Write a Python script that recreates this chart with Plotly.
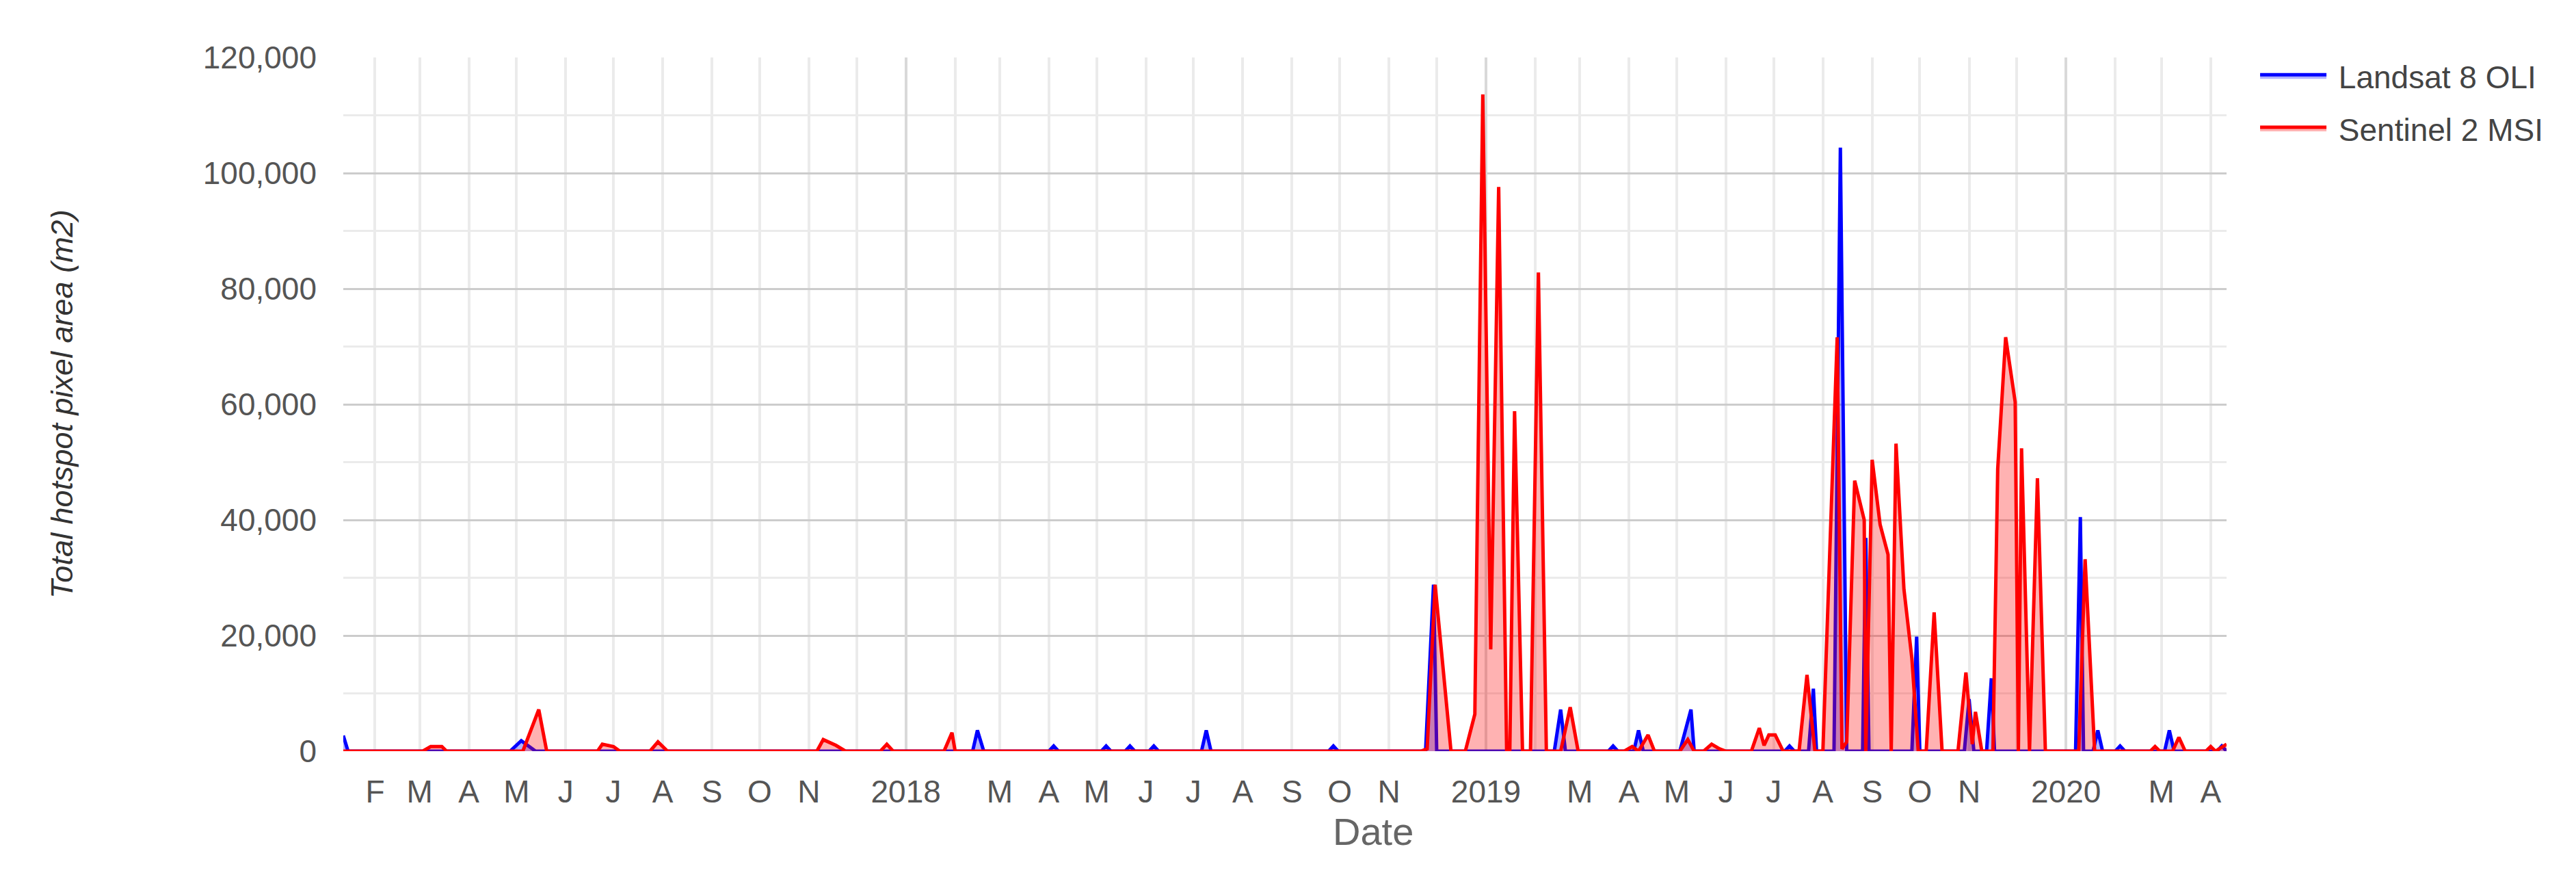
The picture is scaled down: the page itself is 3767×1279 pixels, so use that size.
import plotly.graph_objects as go

# ---------------- data ----------------
landsat_dates = [
    "2017-01-12", "2017-01-15", "2017-04-27", "2017-05-04", "2017-05-13",
    "2018-02-12", "2018-02-15", "2018-02-19", "2018-04-01", "2018-04-04", "2018-04-07",
    "2018-05-04", "2018-05-07", "2018-05-10", "2018-05-19", "2018-05-22", "2018-05-25",
    "2018-06-03", "2018-06-06", "2018-06-09", "2018-07-06", "2018-07-09", "2018-07-12",
    "2018-09-24", "2018-09-27", "2018-09-30", "2018-11-24", "2018-11-29", "2018-12-01",
    "2019-02-13", "2019-02-17", "2019-02-20", "2019-03-19", "2019-03-22", "2019-03-25",
    "2019-04-04", "2019-04-07", "2019-04-10", "2019-05-03", "2019-05-10", "2019-05-12",
    "2019-07-08", "2019-07-11", "2019-07-14", "2019-07-23", "2019-07-26", "2019-07-28",
    "2019-08-08", "2019-08-12", "2019-08-16", "2019-08-26", "2019-08-28", "2019-08-30",
    "2019-09-26", "2019-09-29", "2019-10-01", "2019-10-29", "2019-11-01", "2019-11-04",
    "2019-11-12", "2019-11-15", "2019-11-17", "2020-01-07", "2020-01-10", "2020-01-12",
    "2020-01-18", "2020-01-21", "2020-01-24", "2020-02-01", "2020-02-04", "2020-02-07",
    "2020-03-03", "2020-03-06", "2020-03-09", "2020-04-05", "2020-04-08", "2020-04-11",
]
landsat_area = [
    2700, 0, 0, 1800, 0,
    0, 3600, 0, 0, 900, 0,
    0, 900, 0, 0, 900, 0,
    0, 900, 0, 0, 3600, 0,
    0, 900, 0, 0, 28800, 0,
    0, 7200, 0, 0, 900, 0,
    0, 3600, 0, 0, 7200, 0,
    0, 900, 0, 0, 10800, 0,
    0, 104400, 0, 0, 36900, 0,
    0, 19800, 0, 0, 9000, 0,
    0, 12600, 0, 0, 40500, 0,
    0, 3600, 0, 0, 900, 0,
    0, 3600, 0, 0, 900, 0,
]

sentinel_dates = [
    "2017-01-12", "2017-03-03", "2017-03-08", "2017-03-15", "2017-03-18",
    "2017-05-05", "2017-05-15", "2017-05-20", "2017-06-21", "2017-06-24", "2017-07-01", "2017-07-05",
    "2017-07-24", "2017-07-29", "2017-08-04", "2017-11-06", "2017-11-10", "2017-11-18", "2017-11-24",
    "2017-12-16", "2017-12-20", "2017-12-24", "2018-01-25", "2018-01-30", "2018-02-01",
    "2018-11-21", "2018-11-25", "2018-11-30", "2018-12-10", "2018-12-19", "2018-12-25",
    "2018-12-30", "2019-01-04", "2019-01-09", "2019-01-14", "2019-01-16", "2019-01-19",
    "2019-01-24", "2019-01-29", "2019-02-03", "2019-02-08", "2019-02-17", "2019-02-23", "2019-02-28",
    "2019-03-29", "2019-04-03", "2019-04-07", "2019-04-13", "2019-04-17",
    "2019-05-03", "2019-05-08", "2019-05-12", "2019-05-18", "2019-05-23", "2019-05-28", "2019-06-01",
    "2019-06-17", "2019-06-22", "2019-06-25", "2019-06-28", "2019-07-02", "2019-07-07",
    "2019-07-17", "2019-07-22", "2019-07-27", "2019-08-01", "2019-08-10", "2019-08-13", "2019-08-16",
    "2019-08-21", "2019-08-27", "2019-08-28", "2019-09-01", "2019-09-06", "2019-09-11", "2019-09-13",
    "2019-09-16", "2019-09-21", "2019-09-26", "2019-09-30", "2019-10-05", "2019-10-10", "2019-10-15",
    "2019-10-25", "2019-10-30", "2019-11-03", "2019-11-05", "2019-11-09", "2019-11-16", "2019-11-19",
    "2019-11-24", "2019-11-30", "2019-12-02", "2019-12-04", "2019-12-09", "2019-12-14", "2019-12-19",
    "2020-01-09", "2020-01-13", "2020-01-19", "2020-02-23", "2020-02-26", "2020-02-29",
    "2020-03-08", "2020-03-12", "2020-03-16", "2020-03-29", "2020-04-01", "2020-04-04", "2020-04-11",
]
sentinel_area = [
    0, 0, 800, 800, 0,
    0, 7200, 0, 0, 1200, 800, 0,
    0, 1600, 0, 0, 2000, 1000, 0,
    0, 1200, 0, 0, 3200, 0,
    0, 400, 28800, 0, 0, 6400,
    113600, 17600, 97600, 0, 0, 58800,
    0, 0, 82800, 0, 0, 7600, 0,
    0, 800, 0, 2800, 0,
    0, 2000, 0, 0, 1200, 400, 0,
    0, 4000, 1000, 2800, 2800, 0,
    0, 13200, 0, 0, 71600, 400, 1600,
    46800, 40000, 0, 50400, 39200, 34000, 0,
    53200, 28000, 16000, 0, 0, 24000, 0,
    0, 13600, 1200, 6800, 0, 0, 48800,
    71600, 60400, 0, 52400, 0, 47200, 0,
    0, 33200, 0, 0, 800, 0,
    0, 2400, 0, 0, 800, 0, 1200,
]

month_ticks = [
    "2017-02-01", "2017-03-01", "2017-04-01", "2017-05-01", "2017-06-01", "2017-07-01",
    "2017-08-01", "2017-09-01", "2017-10-01", "2017-11-01", "2017-12-01",
    "2018-01-01", "2018-02-01", "2018-03-01", "2018-04-01", "2018-05-01", "2018-06-01",
    "2018-07-01", "2018-08-01", "2018-09-01", "2018-10-01", "2018-11-01", "2018-12-01",
    "2019-01-01", "2019-02-01", "2019-03-01", "2019-04-01", "2019-05-01", "2019-06-01",
    "2019-07-01", "2019-08-01", "2019-09-01", "2019-10-01", "2019-11-01", "2019-12-01",
    "2020-01-01", "2020-02-01", "2020-03-01", "2020-04-01",
]
month_labels = [
    "F", "M", "A", "M", "J", "J", "A", "S", "O", "N", "",
    "2018", "", "M", "A", "M", "J", "J", "A", "S", "O", "N", "",
    "2019", "", "M", "A", "M", "J", "J", "A", "S", "O", "N", "",
    "2020", "", "M", "A",
]
year_ticks = ["2018-01-01", "2019-01-01", "2020-01-01"]
y_ticks = [0, 20000, 40000, 60000, 80000, 100000, 120000]

x_start, x_end = "2017-01-12", "2020-04-11"

FONT = "Liberation Sans, Arial, sans-serif"

fig = go.Figure()
fig.add_trace(go.Scatter(
    x=landsat_dates, y=landsat_area, name="\u00a0Landsat 8 OLI", mode="lines",
    line=dict(color="#0000ff", width=5), fill="tozeroy",
    fillcolor="rgba(0,0,255,0.3)", legendgroup="a",
))
fig.add_trace(go.Scatter(
    x=sentinel_dates, y=sentinel_area, name="\u00a0Sentinel 2 MSI", mode="lines",
    line=dict(color="#ff0000", width=5), fill="tozeroy",
    fillcolor="rgba(255,0,0,0.3)", legendgroup="b",
))
# helper trace so the year-grid overlay axis is drawn
fig.add_trace(go.Scatter(x=[x_start], y=[None], xaxis="x2", showlegend=False,
                         hoverinfo="skip", mode="lines"))

fig.update_layout(
    width=3767, height=1279,
    margin=dict(l=494, r=519, t=76, b=189),
    paper_bgcolor="white", plot_bgcolor="white",
    font=dict(family=FONT, size=46, color="#444"),
    showlegend=True,
    legend=dict(
        x=1.016, y=1.009, xanchor="left", yanchor="top",
        font=dict(size=46, color="#444"), itemwidth=97,
        tracegroupgap=14, traceorder="grouped", bgcolor="rgba(0,0,0,0)",
    ),
    xaxis=dict(
        type="date", range=[x_start, x_end],
        tickmode="array", tickvals=month_ticks, ticktext=month_labels,
        showgrid=True, gridcolor="#ebebeb", gridwidth=3.5,
        ticks="", showline=False, zeroline=False,
        tickfont=dict(size=46, color="#555"), ticklabelstandoff=28,
    ),
    xaxis2=dict(
        type="date", overlaying="x", matches="x", range=[x_start, x_end],
        tickmode="array", tickvals=year_ticks, showticklabels=False,
        showgrid=True, gridcolor="#d9d9d9", gridwidth=3.5, ticks="",
        showline=False, zeroline=False,
    ),
    yaxis=dict(
        range=[0, 120000], tickmode="array", tickvals=y_ticks,
        tickformat=",d", showgrid=True, gridcolor="#cccccc", gridwidth=3,
        minor=dict(dtick=10000, showgrid=True, gridcolor="#ebebeb", gridwidth=3),
        ticks="", showline=False, zeroline=False,
        tickfont=dict(size=46, color="#555"), ticklabelstandoff=38,
    ),
    annotations=[
        dict(text="Total hotspot pixel area (m2)", xref="paper", yref="paper",
             x=-0.1496, y=0.5, xanchor="center", yanchor="middle", textangle=-90,
             showarrow=False, font=dict(size=45, color="#333", style="italic")),
        dict(text="Date", xref="paper", yref="paper", x=0.547, y=-0.1154,
             xanchor="center", yanchor="middle", showarrow=False,
             font=dict(size=56, color="#666")),
    ],
)

fig.write_html("out.html")
